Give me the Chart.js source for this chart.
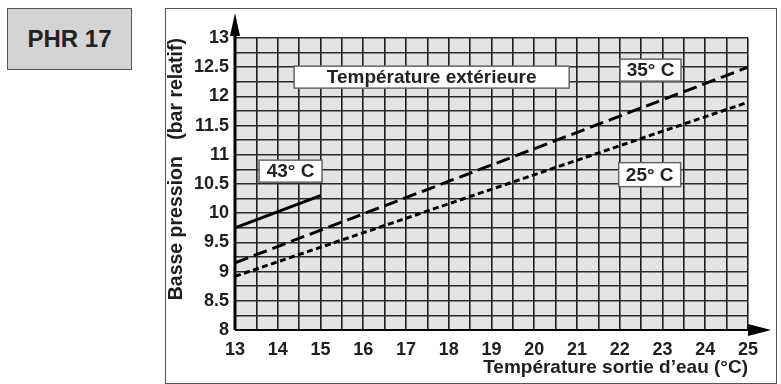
<!DOCTYPE html>
<html>
<head>
<meta charset="utf-8">
<script src="https://cdn.jsdelivr.net/npm/chart.js@4"></script>
<style>
  html, body { margin: 0; padding: 0; background: #fff; }
  body { width: 781px; height: 384px; position: relative; overflow: hidden; font-family: "Liberation Sans", Arial, sans-serif; }
  #model {
    position: absolute; left: 7px; top: 8px; width: 123px; height: 60px;
    background: #d4d4d4; border: 1.5px solid #555;
    font-weight: bold; font-size: 24px; color: #222;
    display: flex; align-items: center; justify-content: center;
  }
  #frame {
    position: absolute; left: 165px; top: 8px; width: 610px; height: 374px;
    border: 1.5px solid #555;
  }
  #chart { position: absolute; left: 0; top: 0; }
</style>
</head>
<body>
<div id="model">PHR 17</div>
<div id="frame"></div>
<canvas id="chart" width="781" height="384"></canvas>
<script>
// Water outlet temperature (°C) and low pressure (bar) per outdoor temperature
const waterTemp43 = [13, 15];
const pressure43 = [9.75, 10.3];
const waterTemp35 = [13, 25];
const pressure35 = [9.15, 12.5];
const waterTemp25 = [13, 25];
const pressure25 = [8.92, 11.9];

// Axis ranges
const xRange = [13, 25];
const yRange = [8, 13];

// Boxed labels on the plot
const boxLabels = [
  { text: "Température extérieure", x: 17.6, y: 12.33, w: 275, h: 22 },
  { text: "35° C", x: 22.72, y: 12.45, w: 61, h: 22 },
  { text: "43° C", x: 14.3, y: 10.72, w: 63, h: 22 },
  { text: "25° C", x: 22.7, y: 10.66, w: 62, h: 24 },
];

const toPoints = (xs, ys) => xs.map((x, i) => ({ x: x, y: ys[i] }));

const FONT = "'Liberation Sans', Arial, sans-serif";

// Grey plot background
const plotBackground = {
  id: "plotBackground",
  beforeDraw(chart) {
    const { ctx, chartArea: a } = chart;
    ctx.save();
    ctx.fillStyle = "#e4e4e4";
    ctx.fillRect(a.left, a.top, a.right - a.left, a.bottom - a.top);
    ctx.restore();
  },
};

// Axis arrows and boxed labels
const decorations = {
  id: "decorations",
  afterDraw(chart) {
    const { ctx, chartArea: a, scales } = chart;
    ctx.save();
    ctx.fillStyle = "#000";
    ctx.strokeStyle = "#000";

    // y arrow
    ctx.lineWidth = 3;
    ctx.beginPath();
    ctx.moveTo(a.left, a.bottom);
    ctx.lineTo(a.left, a.top - 10);
    ctx.stroke();
    ctx.beginPath();
    ctx.moveTo(a.left, a.top - 25);
    ctx.lineTo(a.left - 5, a.top - 2);
    ctx.lineTo(a.left + 5, a.top - 2);
    ctx.closePath();
    ctx.fill();

    // x arrow
    ctx.lineWidth = 2;
    ctx.beginPath();
    ctx.moveTo(a.left, a.bottom);
    ctx.lineTo(a.right + 5, a.bottom);
    ctx.stroke();
    ctx.beginPath();
    ctx.moveTo(a.right + 23, a.bottom);
    ctx.lineTo(a.right, a.bottom - 6);
    ctx.lineTo(a.right, a.bottom + 6);
    ctx.closePath();
    ctx.fill();

    // labels
    ctx.font = "bold 19px " + FONT;
    ctx.textAlign = "center";
    ctx.textBaseline = "middle";
    boxLabels.forEach((b) => {
      const cx = scales.x.getPixelForValue(b.x);
      const cy = scales.y.getPixelForValue(b.y);
      ctx.fillStyle = "#fff";
      ctx.fillRect(cx - b.w / 2, cy - b.h / 2, b.w, b.h);
      ctx.lineWidth = 1.5;
      ctx.strokeStyle = "#666";
      ctx.strokeRect(cx - b.w / 2, cy - b.h / 2, b.w, b.h);
      ctx.fillStyle = "#222";
      ctx.fillText(b.text, cx, cy + 1);
    });
    ctx.restore();
  },
};

const lineStyle = {
  borderColor: "#000",
  borderWidth: 3,
  pointRadius: 0,
  borderCapStyle: "butt",
  fill: false,
  tension: 0,
};

new Chart(document.getElementById("chart"), {
  type: "line",
  data: {
    datasets: [
      { label: "43° C", data: toPoints(waterTemp43, pressure43), ...lineStyle },
      { label: "35° C", data: toPoints(waterTemp35, pressure35), ...lineStyle, borderDash: [14, 6] },
      { label: "25° C", data: toPoints(waterTemp25, pressure25), ...lineStyle, borderDash: [6, 3.5] },
    ],
  },
  options: {
    responsive: false,
    devicePixelRatio: 1,
    animation: false,
    layout: { padding: { left: 165, top: 38, right: 33, bottom: 0 } },
    plugins: {
      legend: { display: false },
      tooltip: { enabled: false },
    },
    scales: {
      x: {
        type: "linear",
        min: xRange[0],
        max: xRange[1],
        afterFit: (scale) => { scale.height = 54; },
        grid: { color: "#1e1e1e", lineWidth: 1.6, drawTicks: false },
        border: { display: false },
        ticks: {
          stepSize: 0.5,
          autoSkip: false,
          maxRotation: 0,
          padding: 9,
          color: "#1e1e1e",
          font: { family: FONT, size: 18, weight: "bold" },
          callback: (v) => (Number.isInteger(v) ? v : ""),
        },
        title: {
          display: true,
          text: "Température sortie d’eau (°C)",
          align: "end",
          color: "#1e1e1e",
          padding: { top: 0, bottom: 5 },
          font: { family: FONT, size: 19, weight: "bold" },
        },
      },
      y: {
        type: "linear",
        min: yRange[0],
        max: yRange[1],
        afterFit: (scale) => { scale.width = 70; },
        grid: { color: "#2a2a2a", lineWidth: 1.6, drawTicks: false },
        border: { display: false },
        ticks: {
          stepSize: 0.25,
          autoSkip: false,
          padding: 6,
          color: "#1e1e1e",
          font: { family: FONT, size: 18, weight: "bold" },
          callback: (v) => (v % 0.5 === 0 ? v : ""),
        },
        title: {
          display: true,
          text: "Basse pression   (bar relatif)",
          align: "end",
          color: "#1e1e1e",
          padding: 0,
          font: { family: FONT, size: 19.5, weight: "bold" },
        },
      },
    },
  },
  plugins: [plotBackground, decorations],
});
</script>
</body>
</html>
